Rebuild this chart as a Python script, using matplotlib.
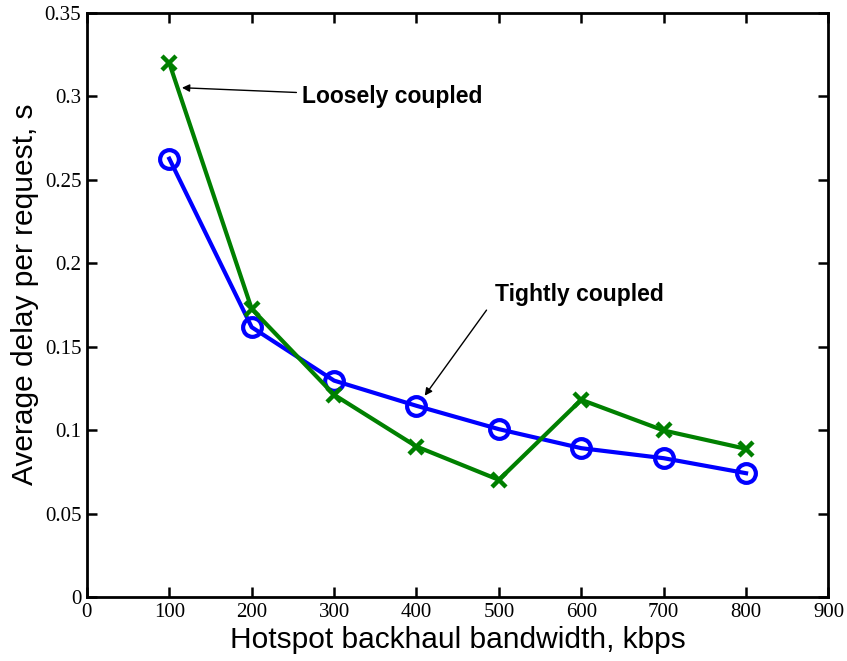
import matplotlib
matplotlib.use('Agg')
import matplotlib.pyplot as plt

# data
bandwidth = [100, 200, 300, 400, 500, 600, 700, 800]
tight_delay = [0.2627, 0.1617, 0.1297, 0.1146, 0.1006, 0.0892, 0.0832, 0.0742]
loose_delay = [0.320, 0.1727, 0.1212, 0.0902, 0.0702, 0.1182, 0.0998, 0.0888]
x_ticks = [0, 100, 200, 300, 400, 500, 600, 700, 800, 900]
y_ticks = [0, 0.05, 0.1, 0.15, 0.2, 0.25, 0.3, 0.35]
y_tick_labels = ['0', '0.05', '0.1', '0.15', '0.2', '0.25', '0.3', '0.35']

fig = plt.figure(figsize=(8.47, 6.61), dpi=100)
ax = fig.add_axes([0.1026, 0.0968, 0.8755, 0.8835])

ax.plot(bandwidth, tight_delay, color='#0000ff', lw=3, marker='o', ms=13.5,
        mfc='none', mew=3)
ax.plot(bandwidth, loose_delay, color='#008000', lw=3, marker='x', ms=9.5,
        mew=3.2)

ax.set_xlim(0, 900)
ax.set_ylim(0, 0.35)
ax.set_xticks(x_ticks)
ax.set_xticklabels([str(t) for t in x_ticks], family='Liberation Serif', size=15)
ax.set_yticks(y_ticks)
ax.set_yticklabels(y_tick_labels, family='Liberation Serif', size=15)
ax.tick_params(direction='in', length=7, width=1.8, top=True, right=True, pad=4)
for s in ax.spines.values():
    s.set_linewidth(2)

ax.set_xlabel('Hotspot backhaul bandwidth, kbps', family='Liberation Sans', size=21.5, labelpad=3)
ax.set_ylabel('Average delay per request, s', family='Liberation Sans', size=21.5,
              labelpad=4, y=0.519)

# annotations
ax.annotate('Loosely coupled', xy=(112, 0.3053), xytext=(261, 0.300),
            family='Liberation Sans', weight='bold', size=16.5, va='center',
            arrowprops=dict(arrowstyle='-|>', color='black', lw=1, mutation_scale=11))
ax.annotate('', xy=(408, 0.1193), xytext=(487, 0.1733),
            arrowprops=dict(arrowstyle='-|>', color='black', lw=1, mutation_scale=11))
ax.text(495, 0.1813, 'Tightly coupled', family='Liberation Sans', weight='bold',
        size=16.5, va='center')

fig.savefig('out.png', dpi=100)
